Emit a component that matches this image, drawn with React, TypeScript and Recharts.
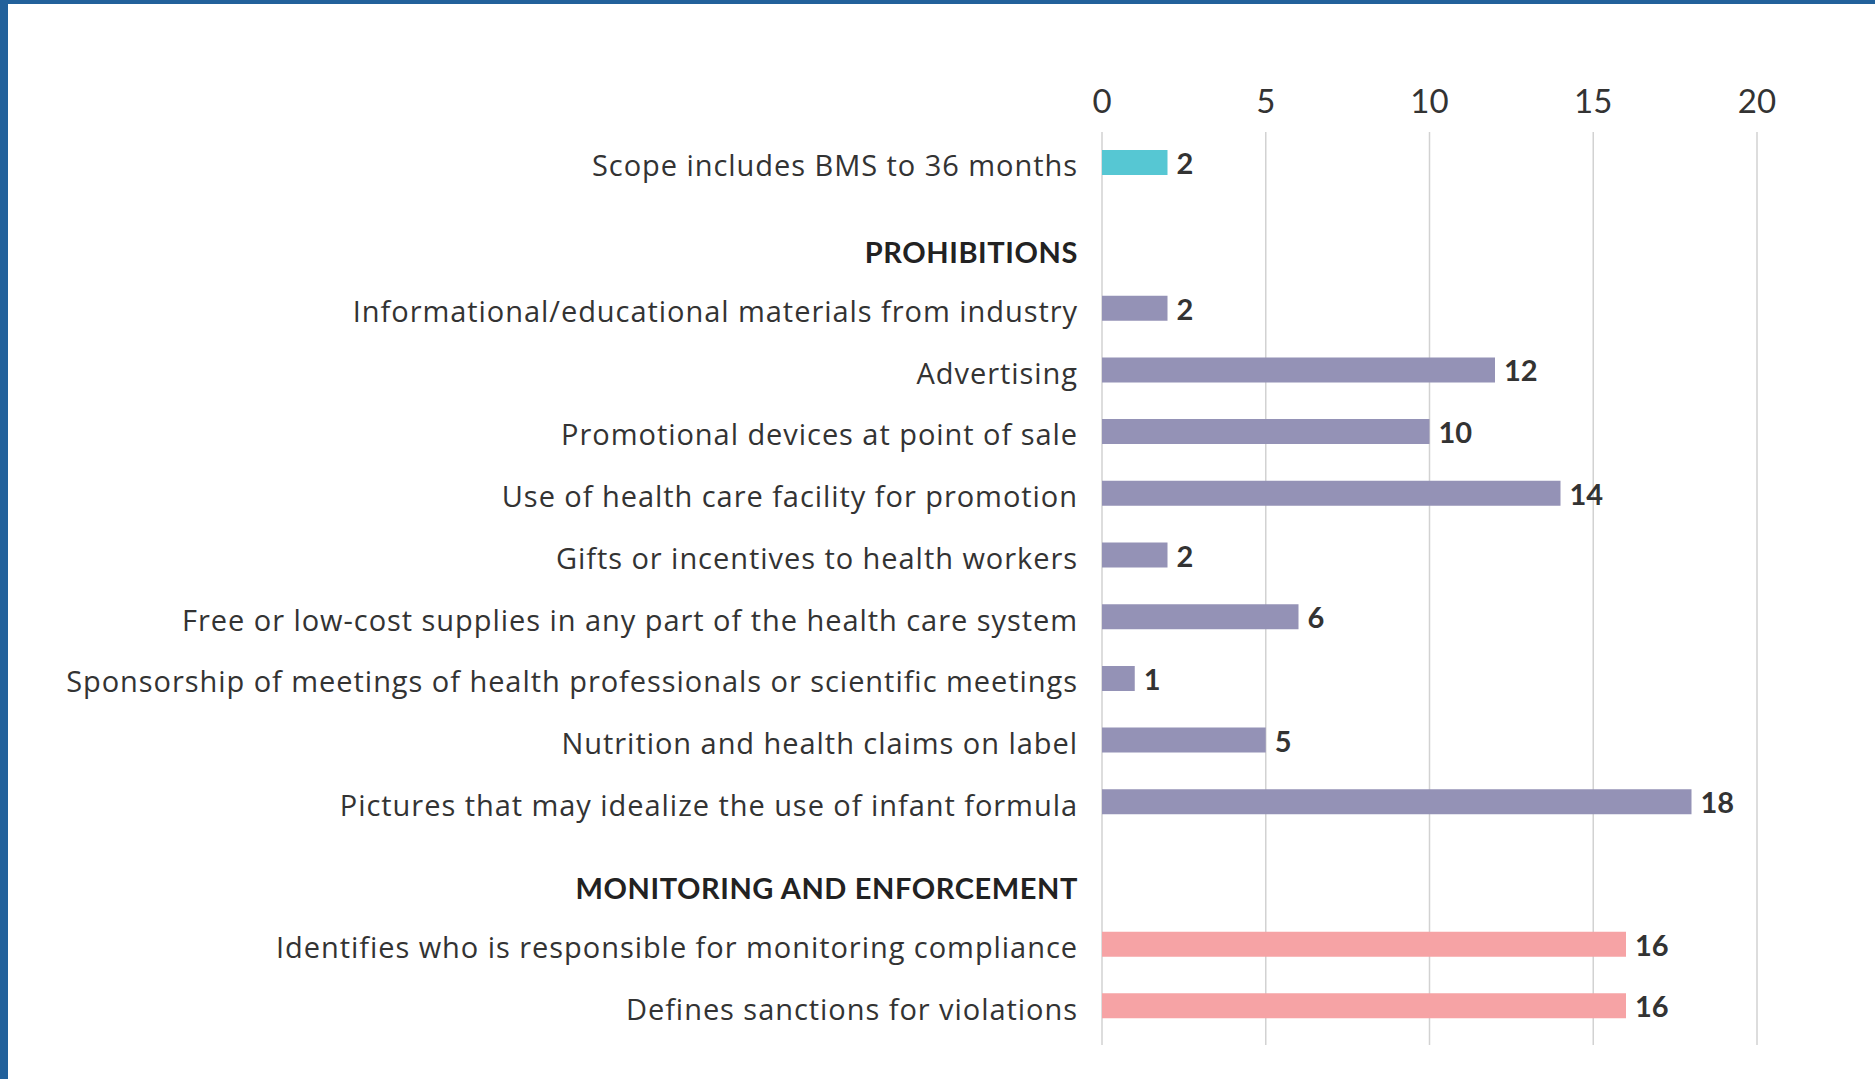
import { Bar, BarChart, CartesianGrid, LabelList, XAxis, YAxis } from "recharts";

const TEAL = "#56c7d3";
const LAVENDER = "#9492b6";
const PINK = "#f6a3a5";
const TEXT = "#333333";
const GRID = "#d2d2d2";
const FONT = "Lato, 'Open Sans', sans-serif";
const LABEL_FONT = "'Open Sans', Lato, sans-serif";

const X_TICKS = [0, 5, 10, 15, 20];

const scopeLabels = ["Scope includes BMS to 36 months"];
const scopeValues = [2];

const prohibitionsHeader = "PROHIBITIONS";
const prohibitionLabels = [
  "Informational/educational materials from industry",
  "Advertising",
  "Promotional devices at point of sale",
  "Use of health care facility for promotion",
  "Gifts or incentives to health workers",
  "Free or low-cost supplies in any part of the health care system",
  "Sponsorship of meetings of health professionals or scientific meetings",
  "Nutrition and health claims on label",
  "Pictures that may idealize the use of infant formula",
];
const prohibitionValues = [2, 12, 10, 14, 2, 6, 1, 5, 18];

const monitoringHeader = "MONITORING AND ENFORCEMENT";
const monitoringLabels = [
  "Identifies who is responsible for monitoring compliance",
  "Defines sanctions for violations",
];
const monitoringValues = [16, 16];

type Row = { label: string; value: number | null; header?: boolean };

function rows(labels: string[], values: number[], header?: string): Row[] {
  const out: Row[] = labels.map((label, i) => ({ label, value: values[i] }));
  return header ? [{ label: header, value: null, header: true }, ...out] : out;
}

const W = 1875;
const Y_AXIS_W = 1102;
const RIGHT = 118;

function CategoryTick(props: any) {
  const { x, y, payload } = props;
  const isHeader = payload.value === prohibitionsHeader || payload.value === monitoringHeader;
  return (
    <text
      x={x}
      y={y + (isHeader ? 5 : 2)}
      textAnchor="end"
      dominantBaseline="central"
      fill={isHeader ? "#222" : TEXT}
      fontFamily={isHeader ? FONT : LABEL_FONT}
      fontSize={29}
      fontWeight={isHeader ? 700 : 400}
      letterSpacing={isHeader ? 0.6 : 0.95}
    >
      {payload.value}
    </text>
  );
}

function ValueLabel(props: any) {
  const { x, y, width, height, value } = props;
  if (value === null || value === undefined) return null;
  return (
    <text
      x={x + width + 9}
      y={y + height / 2}
      dominantBaseline="central"
      fill={TEXT}
      fontFamily={FONT}
      fontSize={29}
      fontWeight={700}
    >
      {value}
    </text>
  );
}

function Group({
  data,
  color,
  height,
  top = 0,
  padTop = 0,
  padBottom = 0,
  showTicks = false,
}: {
  data: Row[];
  color: string;
  height: number;
  top?: number;
  padTop?: number;
  padBottom?: number;
  showTicks?: boolean;
}) {
  return (
    <BarChart
      width={W}
      height={height}
      data={data}
      layout="vertical"
      margin={{ top, right: RIGHT, left: 0, bottom: 0 }}
    >
      <CartesianGrid horizontal={false} stroke={GRID} strokeWidth={1.5} />
      <XAxis
        type="number"
        domain={[0, 20]}
        ticks={X_TICKS}
        orientation="top"
        hide={!showTicks}
        height={showTicks ? 60 : 0}
        axisLine={false}
        tickLine={false}
        tickSize={0}
        tickMargin={19}
        tick={{ fill: TEXT, fontSize: 33, fontFamily: FONT }}
      />
      <YAxis
        type="category"
        dataKey="label"
        width={Y_AXIS_W}
        axisLine={false}
        tickLine={false}
        tickSize={0}
        tickMargin={24}
        padding={{ top: padTop, bottom: padBottom }}
        interval={0}
        tick={<CategoryTick />}
      />
      <Bar dataKey="value" fill={color} barSize={25} isAnimationActive={false}>
        <LabelList dataKey="value" content={<ValueLabel />} />
      </Bar>
    </BarChart>
  );
}

export default function App() {
  return (
    <div
      style={{
        position: "fixed",
        left: 0,
        top: 0,
        width: W,
        height: 1079,
        background: "#fff",
        overflow: "hidden",
      }}
    >
      <div style={{ position: "absolute", left: 0, top: 0, width: W, height: 4, background: "#22619b" }} />
      <div style={{ position: "absolute", left: 0, top: 0, width: 8, height: 1079, background: "#22619b" }} />
      <div style={{ position: "absolute", left: 0, top: 0 }}>
        <Group data={rows(scopeLabels, scopeValues)} color={TEAL} height={193} top={72} showTicks />
        <Group data={rows(prohibitionLabels, prohibitionValues, prohibitionsHeader)} color={LAVENDER} height={640} padTop={23} />
        <Group data={rows(monitoringLabels, monitoringValues, monitoringHeader)} color={PINK} height={212} padTop={19} padBottom={8} />
      </div>
    </div>
  );
}
